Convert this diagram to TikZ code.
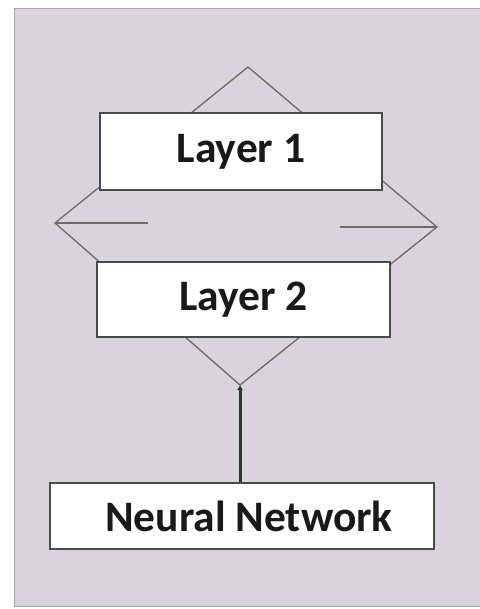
\documentclass[tikz,border=0pt]{standalone}
\usepackage{fontspec}
\setmainfont{Carlito}
\usetikzlibrary{arrows.meta}

\definecolor{panelfill}{HTML}{D8D4DC}
\definecolor{panelrule}{HTML}{A9A5AD}
\definecolor{boxrule}{HTML}{4A4A4A}
\definecolor{diamondrule}{HTML}{6C6A6E}

\tikzset{
  layerbox/.style={draw=boxrule, line width=1.6pt, fill=white, inner sep=0pt,
    font=\fontsize{43.5}{43.5}\selectfont\bfseries, text=black!90},
  diamondline/.style={draw=diamondrule, line width=1.3pt, line join=miter},
  link/.style={draw=black!80, line width=3pt}
}

\begin{document}
\begin{tikzpicture}[x=1pt, y=-1pt]
  \useasboundingbox (0,0) rectangle (479,609);
  \fill[white] (0,0) rectangle (479,609);

  % textured backing panel
  \draw[fill=panelfill, draw=panelrule, line width=1pt] (14,9) rectangle (481,606);

  % large rhombus lying behind the two layer boxes
  \coordinate (dtop) at (248,67);
  \coordinate (dright) at (437,227);
  \coordinate (dbottom) at (240,385);
  \coordinate (dleft) at (55,223);
  \draw[diamondline] (dtop) -- (dright) -- (dbottom) -- (dleft) -- cycle;

  % short horizontal strokes at the side vertices
  \coordinate (lstub) at (148,223);
  \coordinate (rstub) at (340,227);
  \draw[diamondline] (dleft) -- (lstub);
  \draw[diamondline] (rstub) -- (dright);

  % layer boxes
  \node[layerbox, minimum width=282pt, minimum height=77pt] (l1) at (241,151.5) {Layer 1};
  \node[layerbox, minimum width=293pt, minimum height=75pt] (l2) at (243.5,299.5) {Layer 2};
  \node[layerbox, minimum width=384pt, minimum height=66pt]
    (nn) at (242,516) {\hspace*{14pt}Neural Network};

  % connector from the rhombus tip down to the network box
  \draw[link, {Latex[length=5pt,width=6pt]}-] (dbottom) -- (nn.north -| dbottom);
\end{tikzpicture}
\end{document}
